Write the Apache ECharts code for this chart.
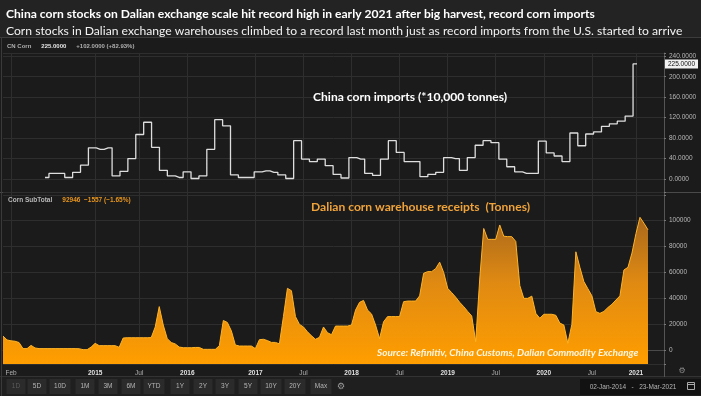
<!DOCTYPE html>
<html>
<head>
<meta charset="utf-8">
<script src="https://cdn.jsdelivr.net/npm/echarts@6/dist/echarts.min.js"></script>
<style>
html,body{margin:0;padding:0;background:#1d1d1d;}
#c{width:701px;height:396px;}
</style>
</head>
<body>
<div id="c"></div>
<script>
// ---------------- DATA ----------------
// China monthly corn imports (*10,000 tonnes)
const importMonths = [];
(function(){ let y = 2014, m = 11; for (let i = 0; i < 76; i++) { importMonths.push(y + '-' + String(m).padStart(2,'0')); m++; if (m > 12) { m = 1; y++; } } })();
const importValues = [
  3, 11, 11, 3, 13, 27, 61, 58, 61, 6,
  15, 40, 87, 111, 62, 17, 6, 3, 14, 1,
  6, 58, 116, 104, 8, 3, 3, 14, 16, 13,
  8, 1, 75, 39, 34, 39, 26, 9, 2, 42,
  39, 11, 7, 39, 75, 52, 34, 34, 4.5, 9,
  13, 42, 40, 17, 42, 66, 75, 71, 39, 24,
  14, 11, 11, 74, 51, 45, 34, 90, 65, 88,
  92, 103, 108, 113, 123, 225
];

// x-axis periods of the (trading-day based) time axis and the number of samples in each
const xPeriods     = ['Jan 2014','Feb 2014','Jan 2015','Jul 2015','Jan 2016','Jan 2017','Jul 2017','Jan 2018','Jul 2018','Jan 2019','Jul 2019','Jan 2020','Jul 2020','Jan 2021','Apr 2021'];
const xPeriodSlots = [2, 21, 11, 12, 17, 12, 12, 12, 12, 12, 12, 12, 11, 4, 4];
const xTickLabels  = ['', 'Feb', '2015', 'Jul', '2016', '2017', 'Jul', '2018', 'Jul', '2019', 'Jul', '2020', 'Jul', '2021', ''];

// Dalian corn warehouse receipts (tonnes), one sample per slot
const receiptValues = [
  11000, 8000, 7300, 7000, 6000, 1300, 1300, 3800, 1800, 1300,
  1300, 1300, 1300, 1300, 1300, 1300, 1300, 1300, 1300, 1200,
  500, 500, 2500, 5400, 3600, 3600, 3600, 3600, 3600, 2300,
  9500, 9700, 9700, 9700, 9700, 9700, 9700, 9800, 18000, 33700,
  19500, 9000, 6000, 4900, 2500, 2000, 2000, 2000, 2200, 2200,
  750, 750, 750, 750, 3500, 23000, 21500, 15000, 4100, 3300,
  3300, 3300, 3300, 1300, 8200, 8500, 7500, 6100, 6100, 5000,
  26000, 47800, 46000, 26000, 20000, 18000, 14300, 11200, 8500, 10000,
  18000, 13600, 12000, 18700, 18700, 18700, 18700, 19500, 31000, 37000,
  38500, 31000, 28000, 19500, 9000, 22000, 26000, 26000, 26000, 26000,
  37500, 38000, 38000, 38000, 42000, 59400, 60700, 60700, 63000, 68000,
  60000, 47800, 44500, 41000, 37000, 33700, 30000, 26500, 6700, 55000,
  94000, 85600, 85600, 85600, 96700, 88000, 87700, 87700, 84000, 50000,
  40100, 40100, 41800, 28500, 24700, 27800, 27800, 27800, 27000, 21000,
  19500, 5400, 20000, 76000, 64000, 53000, 47500, 42000, 29800, 28500,
  30000, 33000, 35500, 38800, 42000, 62000, 64000, 75000, 90000, 102600,
  98000, 92946
];

// Axis tick values
const importTicks = [0, 40, 80, 120, 160, 200, 240];
const receiptTicks = [0, 20000, 40000, 60000, 80000, 100000];

// Toolbar (UI text)
const toolbarButtons = ['1D','5D','10D','1M','3M','6M','YTD','1Y','2Y','3Y','5Y','10Y','20Y','Max'];

// ---------------- BUILD ----------------
const slotCats = [];
const slotLabelOf = {};
xPeriods.forEach(function(p, pi){
  for (let k = 0; k < xPeriodSlots[pi]; k++) {
    const name = p + ' #' + (k + 1);
    slotCats.push(name);
    if (k === 0 && xTickLabels[pi]) slotLabelOf[name] = xTickLabels[pi];
  }
});
const isTick = function(idx, val){ return slotLabelOf[val] !== undefined; };

const GRIDC = '#2e2e2e';
const AXISC = '#555555';
const SMALL = 'Liberation Sans';
const TF = 'Lato';

const topY = { min: -25.4, max: 246.4 };
const botY = { min: -10570, max: 122140 };

const chart = echarts.init(document.getElementById('c'), null, { renderer: 'canvas', width: 701, height: 396 });

const lastImportIdx = importValues.length - 1;
const lastImport = importValues[lastImportIdx];
const lastReceipt = receiptValues[receiptValues.length - 1];

// toolbar graphics
const btnCenters = [16, 37, 60, 85, 108, 131, 154, 180, 203, 225, 248, 271, 295, 321];
const graphics = [
  { type: 'rect', shape: { x: 0, y: 0, width: 701, height: 37 }, style: { fill: '#232323' }, z: -10 },
  { type: 'rect', shape: { x: 0, y: 37, width: 701, height: 359 }, style: { fill: '#1b1b1b' }, z: -10 },
  { type: 'rect', shape: { x: 0, y: 377, width: 701, height: 19 }, style: { fill: '#1f1f1f' }, z: -9 },
  { type: 'line', shape: { x1: 0, y1: 37.5, x2: 701, y2: 37.5 }, style: { stroke: '#3c3c3c', lineWidth: 1 } },
  { type: 'line', shape: { x1: 0, y1: 192.5, x2: 701, y2: 192.5 }, style: { stroke: '#4a4a4a', lineWidth: 1 } },
  { type: 'line', shape: { x1: 0, y1: 376.5, x2: 701, y2: 376.5 }, style: { stroke: '#333', lineWidth: 1 } },
  { type: 'line', shape: { x1: 1.5, y1: 37, x2: 1.5, y2: 396 }, style: { stroke: '#3a3a3a', lineWidth: 1 } },
  { type: 'line', shape: { x1: 664.5, y1: 364, x2: 664.5, y2: 377 }, style: { stroke: AXISC, lineWidth: 1 } }
];
toolbarButtons.forEach(function(t, i){
  const w = t.length >= 3 ? 21 : 19;
  graphics.push({ type: 'rect', shape: { x: btnCenters[i] - w / 2, y: 379, width: w, height: 15 }, style: { fill: '#2b2b2b' } });
  graphics.push({ type: 'text', x: btnCenters[i], y: 386.5, style: { text: t, fill: i === 0 ? '#5a5a5a' : '#b5b5b5', font: '6.5px "Liberation Sans"', textAlign: 'center', textVerticalAlign: 'middle' } });
});
graphics.push({ type: 'text', x: 341, y: 386.5, style: { text: '⚙', fill: '#9a9a9a', font: '9px "DejaVu Sans"', textAlign: 'center', textVerticalAlign: 'middle' } });
graphics.push({ type: 'text', x: 682, y: 371, style: { text: '⚙', fill: '#8a8a8a', font: '8px "DejaVu Sans"', textAlign: 'center', textVerticalAlign: 'middle' } });
graphics.push({ type: 'rect', shape: { x: 580, y: 379, width: 121, height: 16 }, style: { fill: '#121212' } });
graphics.push({ type: 'text', x: 633, y: 387, style: { text: '02-Jan-2014   -   23-Mar-2021', fill: '#b5b5b5', font: '6.5px "Liberation Sans"', textAlign: 'center', textVerticalAlign: 'middle' } });
graphics.push({ type: 'rect', shape: { x: 687.5, y: 382.5, width: 7, height: 7 }, style: { fill: 'none', stroke: '#aaa', lineWidth: 1 } });
graphics.push({ type: 'line', shape: { x1: 687.5, y1: 384.5, x2: 694.5, y2: 384.5 }, style: { stroke: '#aaa', lineWidth: 1 } });

const option = {
  backgroundColor: '#1d1d1d',
  animation: false,
  graphic: graphics,
  title: [
    { text: 'China corn stocks on Dalian exchange scale hit record high in early 2021 after big harvest, record corn imports',
      left: 6, top: 8, padding: 0,
      textStyle: { fontFamily: TF, fontWeight: 'bold', fontSize: 12.1, color: '#ffffff' } },
    { text: 'Corn stocks in Dalian exchange warehouses climbed to a record last month just as record imports from the U.S. started to arrive',
      left: 6, top: 25, padding: 0,
      textStyle: { fontFamily: TF, fontWeight: 'normal', fontSize: 12.15, color: '#f2f2f2' } },
    { text: '{g|CN Corn}  {w|225.0000}  {g|+102.0000 (+82.93%)}',
      left: 7, top: 42, padding: 0,
      textStyle: { lineHeight: 8, rich: { g: { fontFamily: SMALL, fontSize: 6, lineHeight: 8, color: '#b0b0b0' }, w: { fontFamily: SMALL, fontSize: 6, lineHeight: 8, color: '#e6e6e6' } } } },
    { text: 'China corn imports (*10,000 tonnes)',
      left: 313, top: 91, padding: 0,
      textStyle: { fontFamily: TF, fontWeight: 'bold', fontSize: 12.1, color: '#ffffff' } },
    { text: '{g|Corn SubTotal}  {o|92946  \u22121557 (\u22121.65%)}',
      left: 8, top: 196, padding: 0,
      textStyle: { lineHeight: 8, rich: { g: { fontFamily: SMALL, fontSize: 6.5, lineHeight: 8, color: '#b8b8b8' }, o: { fontFamily: SMALL, fontSize: 6.5, lineHeight: 8, color: '#e8961e' } } } },
    { text: 'Dalian corn warehouse receipts  (Tonnes)',
      left: 311, top: 201, padding: 0,
      textStyle: { fontFamily: TF, fontWeight: 'bold', fontSize: 12.1, color: '#f0a33a' } },
    { text: 'Source: Refinitiv, China Customs, Dalian Commodity Exchange',
      left: 377, top: 348, padding: 0,
      textStyle: { fontFamily: TF, fontWeight: 'bold', fontStyle: 'italic', fontSize: 10, color: '#fff6e0' } }
  ],
  grid: [
    { left: 3, right: 37, top: 53, height: 139, show: false },
    { left: 45, right: 64, top: 53, height: 139, show: false },
    { left: 3, right: 37, top: 192, height: 172, show: false }
  ],
  xAxis: [
    { gridIndex: 0, type: 'category', data: slotCats, boundaryGap: false,
      axisLine: { show: false }, axisTick: { show: false }, axisLabel: { show: false },
      splitLine: { show: true, interval: isTick, lineStyle: { color: GRIDC, width: 1 } } },
    { gridIndex: 1, type: 'category', data: importMonths, boundaryGap: false, show: false },
    { gridIndex: 2, type: 'category', data: slotCats, boundaryGap: false,
      axisLine: { show: true, lineStyle: { color: '#4a4a4a' } },
      axisTick: { show: true, interval: isTick, length: 2, lineStyle: { color: '#777' } },
      axisLabel: { interval: isTick, margin: 6,
        formatter: function(v){ const t = slotLabelOf[v] || ''; return /^\d{4}$/.test(t) ? '{y|' + t + '}' : '{m|' + t + '}'; },
        rich: { y: { fontFamily: SMALL, fontSize: 6.5, fontWeight: 'bold', color: '#e0e0e0' },
                m: { fontFamily: SMALL, fontSize: 6.5, color: '#b0b0b0' } } },
      splitLine: { show: true, interval: isTick, lineStyle: { color: GRIDC, width: 1 } } }
  ],
  yAxis: [
    { gridIndex: 0, type: 'value', position: 'right', min: topY.min, max: topY.max, minInterval: 40, maxInterval: 40,
      axisLine: { show: true, lineStyle: { color: AXISC } },
      axisTick: { show: true, length: 2, lineStyle: { color: '#777' } },
      axisLabel: { margin: 5, fontFamily: SMALL, fontSize: 6.5, color: '#b8b8b8',
        formatter: function(v){ return importTicks.indexOf(Math.round(v * 1000) / 1000) >= 0 ? v.toFixed(4) : ''; } },
      splitLine: { show: true, lineStyle: { color: GRIDC, width: 1 } } },
    { gridIndex: 1, type: 'value', min: topY.min, max: topY.max, show: false, splitLine: { show: false } },
    { gridIndex: 2, type: 'value', position: 'right', min: botY.min, max: botY.max, minInterval: 20000, maxInterval: 20000,
      axisLine: { show: true, lineStyle: { color: AXISC } },
      axisTick: { show: true, length: 2, lineStyle: { color: '#777' } },
      axisLabel: { margin: 5, fontFamily: SMALL, fontSize: 6.5, color: '#b8b8b8',
        formatter: function(v){ return receiptTicks.indexOf(Math.round(v)) >= 0 ? String(Math.round(v)) : ''; } },
      splitLine: { show: true, lineStyle: { color: GRIDC, width: 1 } } }
  ],
  series: [
    { name: 'CN Corn imports', type: 'line', xAxisIndex: 1, yAxisIndex: 1, data: importValues,
      step: 'middle', symbol: 'none', clip: false, lineStyle: { color: '#dedede', width: 1.3 },
      markPoint: { silent: true, symbol: 'rect', symbolSize: [33, 9], symbolOffset: [44.5, 0],
        itemStyle: { color: '#f2f2f2' },
        data: [{ coord: [lastImportIdx, lastImport], value: lastImport }],
        label: { show: true, position: 'inside', formatter: function(p){ return Number(p.value).toFixed(4); },
          color: '#111', fontFamily: SMALL, fontSize: 6.5 } } },
    { name: 'Corn SubTotal', type: 'line', xAxisIndex: 2, yAxisIndex: 2, data: receiptValues,
      symbol: 'none', lineStyle: { color: '#ffb326', width: 1 },
      areaStyle: { origin: 'start', opacity: 1,
        color: new echarts.graphic.LinearGradient(0, 0, 0, 1, [
          { offset: 0, color: '#a9681c' }, { offset: 0.45, color: '#e08a12' }, { offset: 1, color: '#ff9e00' } ]) },
      markLine: { silent: true, symbol: 'none', lineStyle: { opacity: 0 },
        data: [{ yAxis: lastReceipt }],
        label: { position: 'end', distance: 2, formatter: function(p){ return String(p.value); },
          backgroundColor: '#f0a020', color: '#3a2000', fontFamily: SMALL, fontSize: 6.5, padding: [2, 4, 1, 4] } } }
  ]
};
chart.setOption(option);
</script>
</body>
</html>
